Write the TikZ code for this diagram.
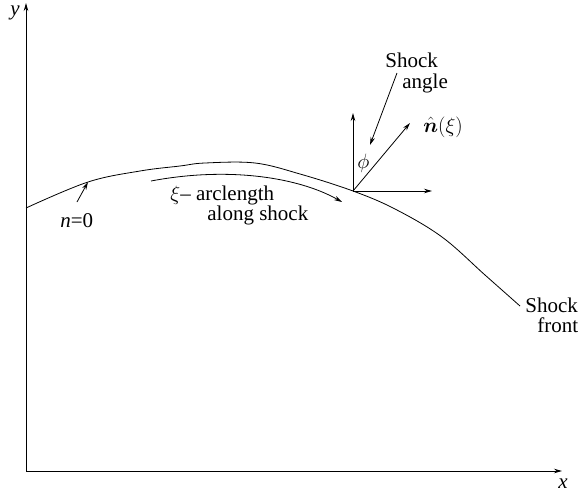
\documentclass[tikz,border=0pt]{standalone}
\usepackage{fontspec}
\setmainfont{Liberation Serif}
\newfontfamily\tms{Liberation Serif}
\usepackage{bm}
\usetikzlibrary{arrows.meta}
\begin{document}
\begin{tikzpicture}[x=1pt,y=-1pt,line width=0.8pt,
  >={Stealth[length=8pt,width=4.5pt]},
  lbl/.style={font=\tms\fontsize{21}{23}\selectfont,inner sep=0pt,anchor=base west}]
\useasboundingbox (0,0) rectangle (587,493);
% axes
\coordinate (O) at (26,471);
\coordinate (Ytip) at (26,3);
\coordinate (Xtip) at (562,471);
\draw[->] (O) -- (Ytip);
\draw[->] (O) -- (Xtip);
\node[lbl] (ylab) at (10,15) {\textit{y}};
\node[lbl] (xlab) at (558,488) {\textit{x}};
% shock curve
\coordinate (P) at (353,191);
\coordinate (E) at (520,306);
\draw plot[smooth,tension=0.6] coordinates {(26,208) (88,182) (140,171) (180,166) (205,163) (255,163) (300,174) (P) (395,209) (442,237) (485,275) (E)};
% vectors at P
\coordinate (Up) at (353,113);
\coordinate (Rt) at (432,191);
\coordinate (Nt) at (410,123);
\draw[->] (P) -- (Up);
\draw[->] (P) -- (Rt);
\draw[->] (P) -- (Nt);
\node[lbl] (nhat) at (423,132) {$\hat{\bm n}(\xi)$};
\node[lbl] (phi) at (357,168) {$\phi$};
% shock angle
\node[lbl] (sa1) at (385,67) {Shock};
\node[lbl] (sa2) at (402,88) {angle};
\coordinate (saS) at (397,73);
\coordinate (saE) at (370,145);
\draw[->] (saS) -- (saE);
% n=0
\node[lbl] (n0) at (60,227) {\textit{n}=0};
\coordinate (n0S) at (77,202);
\coordinate (n0E) at (88,182);
\draw[->] (n0S) -- (n0E);
% arclength
\node[lbl] (arc1) at (170,200) {$\xi$– arclength};
\node[lbl] (arc2) at (207,220) {along shock};
\coordinate (arcS) at (151,181);
\coordinate (arcE) at (342,202);
\draw[->] (arcS) .. controls (230,166) and (300,178) .. (arcE);
% shock front
\node[lbl] (sf1) at (525,312) {Shock};
\node[lbl] (sf2) at (537,332) {front};
\end{tikzpicture}
\end{document}
